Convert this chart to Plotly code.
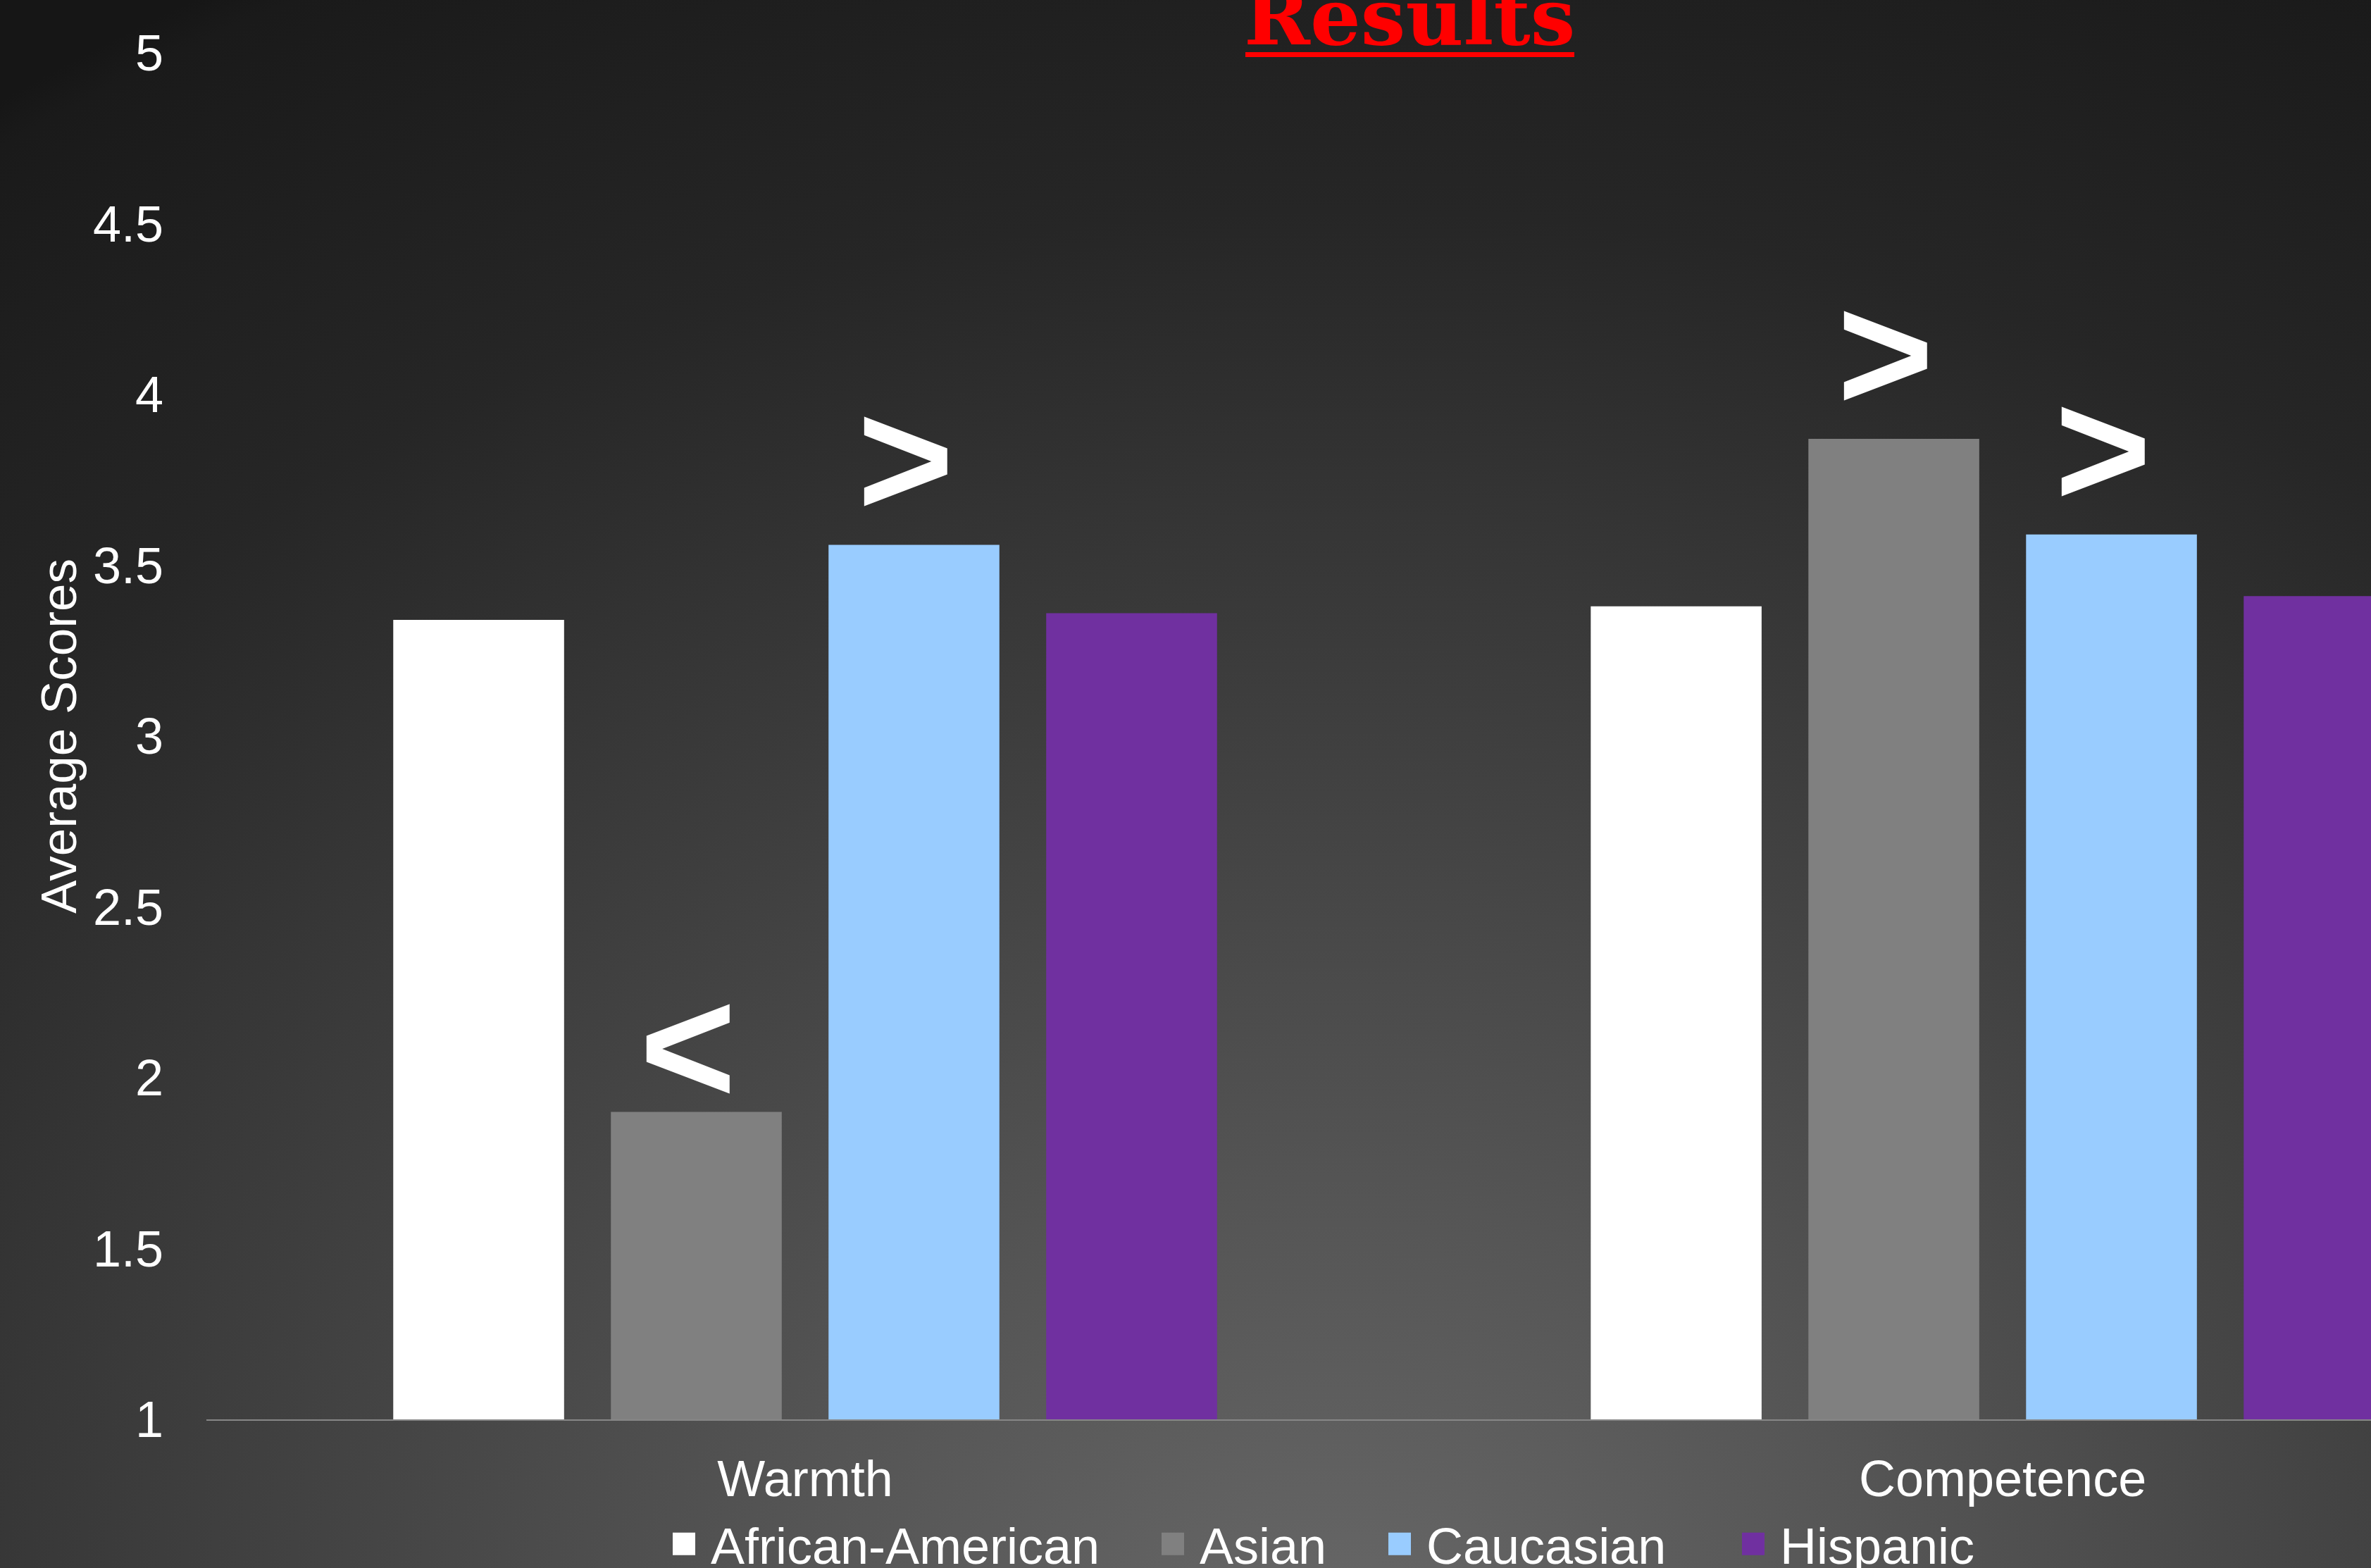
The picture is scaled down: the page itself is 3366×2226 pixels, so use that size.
import base64
import plotly.graph_objects as go

# ---------------- data ----------------
categories = ["Warmth", "Competence"]
series_names = ["African-American", "Asian", "Caucasian", "Hispanic"]
african_american = [3.34, 3.38]
asian = [1.90, 3.87]
caucasian = [3.56, 3.59]
hispanic = [3.36, 3.41]
# significance markers shown above bars
african_american_sig = ["", ""]
asian_sig = ["<", ">"]
caucasian_sig = [">", ">"]
hispanic_sig = ["", ""]
y_tick_values = [1, 1.5, 2, 2.5, 3, 3.5, 4, 4.5, 5]
y_tick_labels = ["1", "1.5", "2", "2.5", "3", "3.5", "4", "4.5", "5"]
chart_title = "Results"
y_title = "Average Scores"

# ---------------- style ----------------
colors = ["#ffffff", "#808080", "#99ccff", "#7030a0"]
W, H = 3366, 2226
ML, MR, MT, MB = 293, 0, 75, 211
PW, PH = W - ML - MR, H - MT - MB
BARGAP = 0.273
BARGROUPGAP = 0.215
SANS = "Liberation Sans, Arial, sans-serif"

series_values = [african_american, asian, caucasian, hispanic]
series_sigs = [african_american_sig, asian_sig, caucasian_sig, hispanic_sig]

# background radial gradient (as svg image)
svg = f'''<svg xmlns="http://www.w3.org/2000/svg" width="{W}" height="{H}" viewBox="0 0 {W} {H}">
<defs><radialGradient id="g" gradientUnits="userSpaceOnUse" cx="1900" cy="2350" r="3300"
 gradientTransform="translate(1900 2350) scale(1 0.818) translate(-1900 -2350)">
<stop offset="0" stop-color="#686868"/>
<stop offset="0.24" stop-color="#555555"/>
<stop offset="0.43" stop-color="#444444"/>
<stop offset="0.60" stop-color="#353535"/>
<stop offset="0.76" stop-color="#262626"/>
<stop offset="0.98" stop-color="#1a1a1a"/>
<stop offset="1" stop-color="#161616"/>
</radialGradient></defs>
<rect x="0" y="0" width="{W}" height="{H}" fill="url(#g)"/></svg>'''
bg_src = "data:image/svg+xml;base64," + base64.b64encode(svg.encode()).decode()

fig = go.Figure()
legend_ids = ["legend", "legend2", "legend3", "legend4"]
for i, (name, vals) in enumerate(zip(series_names, series_values)):
    fig.add_trace(go.Bar(
        x=categories, y=vals, name=name,
        marker=dict(color=colors[i], line=dict(width=0)),
        legend=legend_ids[i],
    ))

# significance chevrons above bars
annotations = []
slot = (1 - BARGAP) / len(series_names)
for s_idx, (vals, sigs) in enumerate(zip(series_values, series_sigs)):
    for c_idx, sym in enumerate(sigs):
        if not sym:
            continue
        ent = "&gt;" if sym == ">" else "&lt;"
        annotations.append(dict(
            x=c_idx + (s_idx - (len(series_names) - 1) / 2) * slot,
            y=vals[c_idx], xref="x", yref="y",
            text=ent, showarrow=False, yanchor="bottom",
            yshift=-12 if sym == ">" else -40, xshift=-12,
            font=dict(family=SANS, size=235, color="white", weight="bold"),
        ))

# title
annotations.append(dict(
    x=(2001 - ML) / PW, y=1, xref="paper", yref="paper",
    text=f"<b>{chart_title}</b>", showarrow=False, yanchor="bottom", yshift=-17,
    font=dict(family="DejaVu Serif", size=113, color="#ff0000"),
))

shapes = [dict(
    type="line", xref="paper", yref="paper",
    x0=(1768 - ML) / PW, x1=(2235 - ML) / PW,
    y0=1 - 2.5 / PH, y1=1 - 2.5 / PH,
    line=dict(color="#ff0000", width=7),
)]

legend_x_px = [933, 1627, 1949, 2451]
legend_common = dict(
    orientation="h", yref="paper", xanchor="left", yanchor="middle",
    y=(2015 - 2192) / PH, bgcolor="rgba(0,0,0,0)", borderwidth=0,
    font=dict(family=SANS, size=72, color="white"), itemwidth=66,
)
legends = {}
for lid, px in zip(legend_ids, legend_x_px):
    legends[lid] = dict(legend_common, x=(px - ML) / PW)

fig.update_layout(
    template="none",
    width=W, height=H,
    margin=dict(l=ML, r=MR, t=MT, b=MB, autoexpand=False),
    paper_bgcolor="#333333",
    plot_bgcolor="rgba(0,0,0,0)",
    barmode="group", bargap=BARGAP, bargroupgap=BARGROUPGAP,
    showlegend=True,
    font=dict(family=SANS, color="white"),
    xaxis=dict(
        type="category", range=[-0.5, (W - ML) / (PW / 1.8076) - 0.5],
        showgrid=False, zeroline=False, showline=True, linecolor="#878787",
        linewidth=2, ticks="", tickfont=dict(family=SANS, size=72, color="white"),
        ticklabelstandoff=21,
    ),
    yaxis=dict(
        range=[1, 5], tickvals=y_tick_values, ticktext=y_tick_labels,
        showgrid=False, zeroline=False, showline=False, ticks="",
        tickfont=dict(family=SANS, size=72, color="white"),
        ticklabelstandoff=60,
        title=dict(text=y_title, font=dict(family=SANS, size=71, color="white"), standoff=0),
    ),
    images=[dict(
        source=bg_src, xref="paper", yref="paper",
        x=-ML / PW, y=1 + MT / PH, sizex=W / PW, sizey=H / PH,
        xanchor="left", yanchor="top", sizing="stretch", layer="below",
    )],
    annotations=annotations,
    shapes=shapes,
    **legends,
)

# enlarge the legend colour squares to match the reference
post = """
document.body.style.margin='0';
function fixLegend(){
  var ps=document.querySelectorAll('g.legendpoints path');
  for(var i=0;i<ps.length;i++){ps[i].setAttribute('d','M16,16H-16V-16H16Z');}
}
fixLegend();
var n=0; var iv=setInterval(function(){fixLegend(); n++; if(n>60){clearInterval(iv);}},50);
var gdv=document.getElementById('{plot_id}');
if(gdv && gdv.on){gdv.on('plotly_afterplot',fixLegend);}
"""
fig.write_html("out.html", config={"displayModeBar": False}, post_script=post)
